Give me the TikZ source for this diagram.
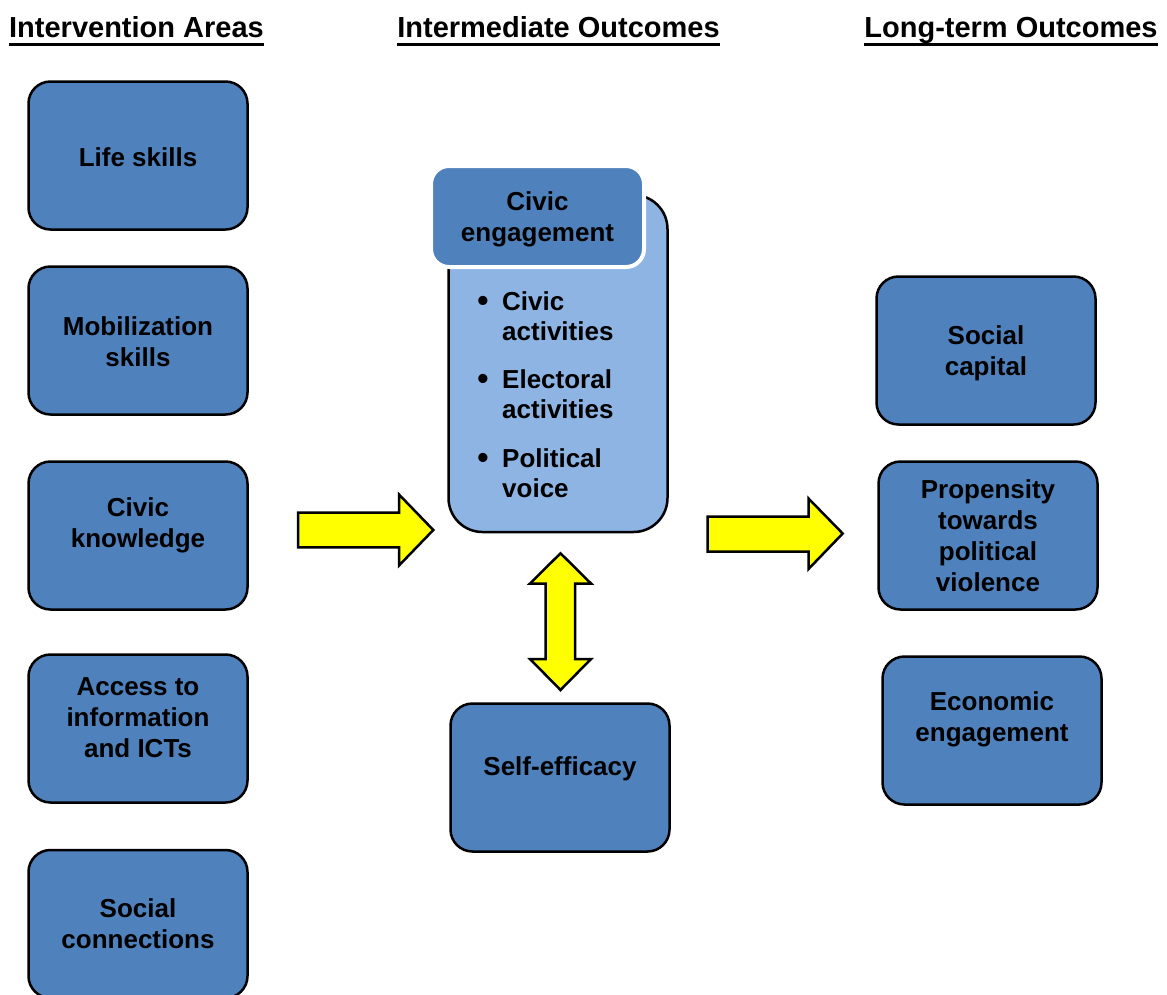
\documentclass[tikz,border=0pt]{standalone}
\usepackage{fontspec}
\setmainfont{Liberation Sans}
\definecolor{boxblue}{HTML}{4F81BD}
\definecolor{lightblue}{HTML}{8EB4E3}
\definecolor{arrowyellow}{HTML}{FFFF00}
\tikzset{
  box/.style={draw=black, line width=2.5pt, fill=boxblue, rounded corners=22pt,
    minimum width=219pt, minimum height=148pt, inner sep=0pt},
  txt/.style={font=\bfseries\fontsize{26}{31}\selectfont, align=center, inner sep=0pt, anchor=base},
  ltxt/.style={font=\bfseries\fontsize{26}{30.5}\selectfont, align=left, inner sep=0pt, anchor=base west},
  bul/.style={font=\bfseries\fontsize{32}{32}\selectfont, inner sep=0pt, anchor=base},
  hdr/.style={font=\bfseries\fontsize{29}{34}\selectfont, inner sep=0pt, anchor=base},
  uline/.style={line width=3pt},
  blockarrow/.style={draw=black, line width=2.5pt, fill=arrowyellow, line join=miter},
}
\begin{document}
\begin{tikzpicture}[x=1pt,y=-1pt]
\useasboundingbox[fill=white] (0,0) rectangle (1167,994);

% headers
\node[hdr] (h1) at (136.5,37.5) {Intervention Areas};
\node[hdr] (h2) at (558.5,37.5) {Intermediate Outcomes};
\node[hdr] (h3) at (1011,37.5) {Long-term Outcomes};
\foreach \h in {h1,h2,h3}{
  \draw[uline] ([yshift=-6.5pt]\h.base west) -- ([yshift=-6.5pt]\h.base east);
}

% left column (text anchors are at the baseline of the last line)
\node[box] (life) at (138,155.5) {};
\node[txt] (lifet) at (138,166) {Life skills};
\node[box] (mob) at (138,340.5) {};
\node[txt] (mobt) at (138,366) {Mobilization\\skills};
\node[box] (civk) at (138,535.5) {};
\node[txt] (civkt) at (138,547) {Civic\\knowledge};
\node[box] (acc) at (138,728.5) {};
\node[txt] (acct) at (138,757) {Access to\\information\\and ICTs};
\node[box] (soc) at (138,924) {};
\node[txt] (soct) at (138,948) {Social\\connections};

% centre column
\node[draw=black, line width=2.5pt, fill=lightblue, rounded corners=34pt,
  minimum width=219pt, minimum height=337pt, inner sep=0pt] (civbig) at (558,363.5) {};
\node[draw=white, line width=4pt, fill=boxblue, rounded corners=18pt,
  minimum width=213pt, minimum height=101pt, inner sep=0pt] (civhead) at (537.5,216.5) {};
\node[txt] (civheadt) at (537.5,241) {Civic\\engagement};

\node[bul] (b1) at (483,311) {•};
\node[ltxt] (i1) at (502,340.5) {Civic\\activities};
\node[bul] (b2) at (483,389) {•};
\node[ltxt] (i2) at (502,418.5) {Electoral\\activities};
\node[bul] (b3) at (483,468) {•};
\node[ltxt] (i3) at (502,497.5) {Political\\voice};

\node[box] (self) at (560,777.5) {};
\node[txt] (selft) at (560,775) {Self-efficacy};

% right column
\node[box] (scap) at (986,350.5) {};
\node[txt] (scapt) at (986,375.5) {Social\\capital};
\node[box] (prop) at (988,535.5) {};
\node[txt] (propt) at (988,591) {Propensity\\towards\\political\\violence};
\node[box] (econ) at (992,730.5) {};
\node[txt] (econt) at (992,741) {Economic\\engagement};

% block arrows
\draw[blockarrow] (298,512.7) -- (399,512.7) -- (399,494.5) -- (433.3,530)
  -- (399,565.5) -- (399,547.3) -- (298,547.3) -- cycle;
\draw[blockarrow] (707.5,516.7) -- (808.5,516.7) -- (808.5,498.5) -- (842.7,533.5)
  -- (808.5,569) -- (808.5,551.7) -- (707.5,551.7) -- cycle;
\draw[blockarrow] (560.5,553.3) -- (591,583.5) -- (575,583.5) -- (575,659)
  -- (591,659) -- (560.5,690) -- (530,659) -- (545.5,659) -- (545.5,583.5)
  -- (530,583.5) -- cycle;
\end{tikzpicture}
\end{document}
